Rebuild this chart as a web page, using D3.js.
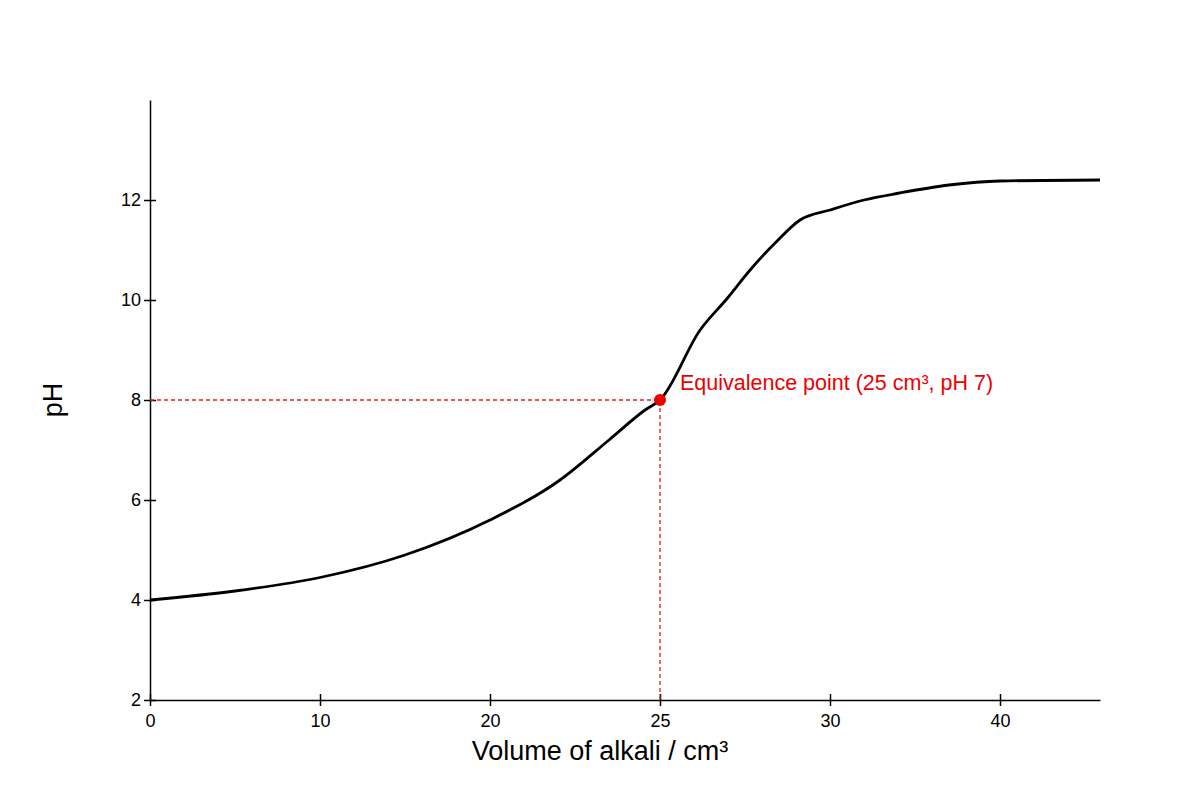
<!DOCTYPE html>
<html><head><meta charset="utf-8">
<script src="https://cdn.jsdelivr.net/npm/d3@7"></script>
<style>body{margin:0;background:#fff}text{font-family:"Liberation Sans",Arial,sans-serif}</style>
</head><body>
<svg id="c" width="1200" height="800"></svg>
<script>
const xTicks=[0,10,20,25,30,40];
const yTicks=[2,4,6,8,10,12];
const volume=[0,5,10,15,20,22.06,23.5,24.56,25,26.18,27.0,27.65,28.4,29.12,30,32,34.1,37,40,45.88];
const ph=[4,4.18,4.45,4.9,5.6,6.4,7.2,7.8,8,9.4,10.05,10.6,11.15,11.6,11.8,12.0,12.14,12.3,12.38,12.4];
const eqX=25, eqY=8, eqLabel="Equivalence point (25 cm³, pH 7)";

const svg=d3.select("#c");
const x=d3.scaleLinear().domain([0,10,20,25,30,40,45.88]).range([150,320,490,660,830,1000,1100]);
const y=d3.scaleLinear().domain([2,14]).range([700,100]);

svg.append("g").attr("transform","translate(0,700)")
 .call(d3.axisBottom(x).tickValues(xTicks).tickSize(6).tickSizeOuter(0).tickFormat(d3.format("d")))
 .call(g=>{g.select(".domain").attr("stroke","#000").attr("stroke-width",1.5);g.selectAll("text").attr("font-size",18).attr("dy","1em").attr("fill","#000");g.selectAll("line").attr("stroke-width",1.5).attr("y1",-6);});
svg.append("g").attr("transform","translate(150,0)")
 .call(d3.axisLeft(y).tickValues(yTicks).tickSize(6).tickSizeOuter(0))
 .call(g=>{g.select(".domain").attr("stroke","#000").attr("stroke-width",1.5);g.selectAll("text").attr("font-size",18).attr("fill","#000");g.selectAll("line").attr("stroke-width",1.5).attr("x1",6);});

svg.append("text").attr("x",600).attr("y",760).attr("text-anchor","middle").attr("font-size",27).text("Volume of alkali / cm³");
svg.append("text").attr("transform","translate(62,400) rotate(-90)").attr("text-anchor","middle").attr("font-size",27).text("pH");

svg.append("path").attr("d",d3.line()([[x(0),y(eqY)],[x(eqX),y(eqY)],[x(eqX),y(2)]]))
 .attr("fill","none").attr("stroke","#e02020").attr("stroke-width",1.3).attr("stroke-dasharray","4,3");

svg.append("path").datum(volume.map((v,i)=>[v,ph[i]]))
 .attr("d",d3.line().x(d=>x(d[0])).y(d=>y(d[1])).curve(d3.curveMonotoneX))
 .attr("fill","none").attr("stroke","#000").attr("stroke-width",2.8);

svg.append("circle").attr("cx",x(eqX)).attr("cy",y(eqY)).attr("r",6).attr("fill","#ee0000");
svg.append("text").attr("x",x(eqX)+20).attr("y",y(eqY)-10).attr("font-size",21.5).attr("fill","#ee0000").text(eqLabel);
</script></body></html>
